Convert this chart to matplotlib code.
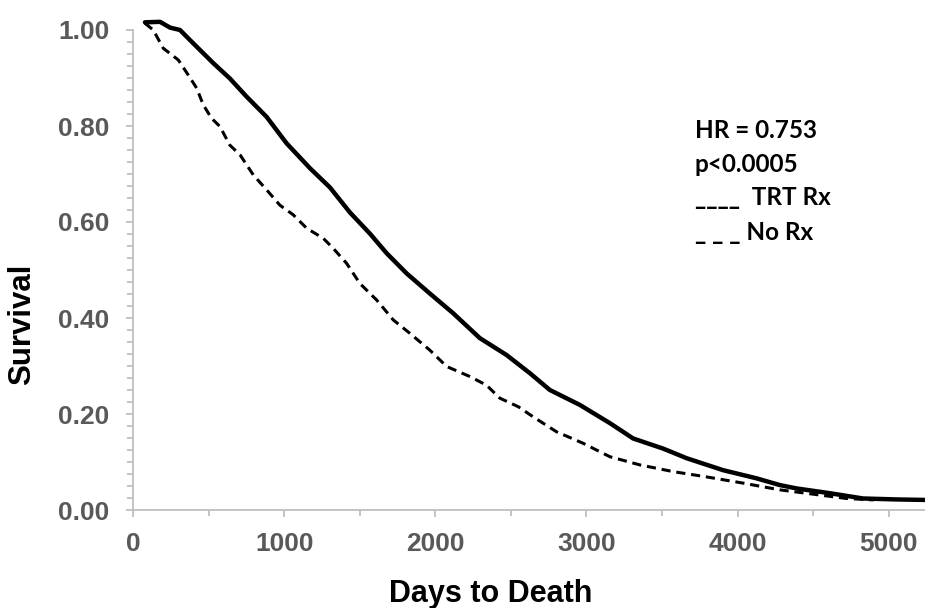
import matplotlib
matplotlib.use("Agg")
import matplotlib.pyplot as plt
from matplotlib.ticker import MultipleLocator, FormatStrFormatter

# Data
trt_days = [79, 179, 245, 311, 377, 454, 531, 641, 752, 884, 1016, 1171, 1303, 1435,
            1567, 1678, 1810, 1964, 2118, 2295, 2471, 2626, 2758, 2956, 3155, 3309,
            3507, 3662, 3904, 4125, 4279, 4389, 4610, 4830, 5051, 5238]
trt_surv = [1.016, 1.017, 1.005, 1.0, 0.979, 0.955, 0.931, 0.899, 0.861, 0.819, 0.764,
            0.712, 0.672, 0.62, 0.576, 0.535, 0.493, 0.451, 0.41, 0.358, 0.323, 0.285,
            0.25, 0.219, 0.181, 0.149, 0.128, 0.108, 0.083, 0.066, 0.052, 0.045, 0.035,
            0.024, 0.022, 0.021]

norx_days = [79, 134, 200, 300, 366, 421, 465, 520, 575, 641, 708, 796, 884, 972, 1060,
             1149, 1259, 1325, 1413, 1501, 1612, 1722, 1832, 1964, 2075, 2229, 2339,
             2427, 2550, 2648, 2802, 2978, 3155, 3353, 3573, 3794, 4036, 4279, 4500,
             4720, 4900]
norx_surv = [1.014, 1.0, 0.962, 0.9375, 0.906, 0.879, 0.844, 0.816, 0.799, 0.76, 0.74,
             0.698, 0.667, 0.635, 0.615, 0.587, 0.566, 0.545, 0.514, 0.472, 0.4375,
             0.396, 0.368, 0.333, 0.299, 0.278, 0.26, 0.233, 0.215, 0.194, 0.163, 0.139,
             0.111, 0.094, 0.08, 0.069, 0.056, 0.042, 0.033, 0.024, 0.021]

annot_lines = ["HR = 0.753", "p<0.0005", "____  TRT Rx", "_ _ _ No Rx"]

fig = plt.figure(figsize=(9.25, 6.08), dpi=100)
ax = fig.add_axes([133 / 925, 98 / 608, 792 / 925, 480 / 608])

ax.plot(trt_days, trt_surv, color="black", lw=3.2, clip_on=False,
        solid_joinstyle="round", solid_capstyle="round")
ax.plot(norx_days, norx_surv, color="black", lw=2.2, clip_on=False,
        linestyle=(0, (3.0, 1.9)))

ax.set_xlim(0, 5240)
ax.set_ylim(0, 1.0)

for s in ["top", "right"]:
    ax.spines[s].set_visible(False)
for s in ["left", "bottom"]:
    ax.spines[s].set_color("#bfbfbf")
    ax.spines[s].set_linewidth(1.3)

ax.xaxis.set_major_locator(MultipleLocator(1000))
ax.xaxis.set_minor_locator(MultipleLocator(500))
ax.yaxis.set_major_locator(MultipleLocator(0.2))
ax.yaxis.set_minor_locator(MultipleLocator(0.025))
ax.yaxis.set_major_formatter(FormatStrFormatter("%.2f"))

ax.tick_params(axis="both", which="both", direction="out", color="#bfbfbf", width=1.3)
ax.tick_params(axis="both", which="major", length=5)
ax.tick_params(axis="both", which="minor", length=4)
ax.tick_params(axis="y", which="major", pad=12)
ax.tick_params(axis="x", which="major", pad=11)
for lab in ax.get_xticklabels() + ax.get_yticklabels():
    lab.set_fontfamily("Liberation Sans")
    lab.set_fontsize(19)
    lab.set_fontweight("bold")
    lab.set_color("#595959")

fig.text(491 / 925, 1 - 594 / 608, "Days to Death", ha="center", va="center",
         family="Liberation Sans", fontsize=22, fontweight="bold", color="black")
fig.text(22 / 925, 1 - 324 / 608, "Survival", ha="center", va="center", rotation=90,
         family="Liberation Sans", fontsize=22.5, fontweight="bold", color="black")

ys = [130, 164, 198, 232]
for t, y in zip(annot_lines, ys):
    fig.text(695 / 925, 1 - y / 608, t, ha="left", va="center",
             family="Lato", fontsize=17.5, fontweight="bold", color="black")

fig.savefig("out.png", dpi=100)
